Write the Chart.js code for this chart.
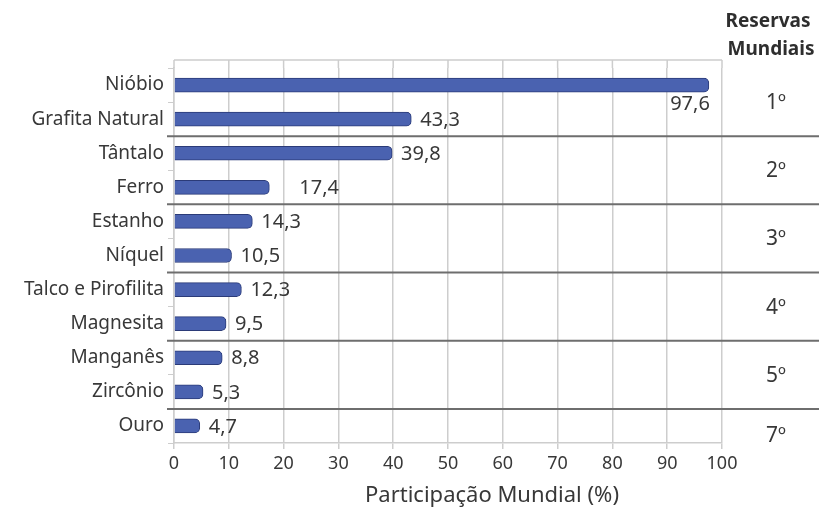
<!DOCTYPE html>
<html>
<head>
<meta charset="utf-8">
<script src="https://cdn.jsdelivr.net/npm/chart.js@4.4.1/dist/chart.umd.min.js"></script>
<style>
  html, body { margin: 0; padding: 0; background: #fff; }
  #wrap { width: 819px; height: 517px; }
</style>
</head>
<body>
<div id="wrap"><canvas id="chart" width="819" height="517"></canvas></div>
<script>
// Minerals and their share of world reserves (%)
const minerals = ['Nióbio', 'Grafita Natural', 'Tântalo', 'Ferro', 'Estanho', 'Níquel',
    'Talco e Pirofilita', 'Magnesita', 'Manganês', 'Zircônio', 'Ouro'];
const shares = [97.6, 43.3, 39.8, 17.4, 14.3, 10.5, 12.3, 9.5, 8.8, 5.3, 4.7];
const shareLabels = ['97,6', '43,3', '39,8', '17,4', '14,3', '10,5', '12,3', '9,5', '8,8', '5,3', '4,7'];

// Ranking groups (Brazil's position in world reserves)
const ranks = ['1º', '2º', '3º', '4º', '5º', '7º'];
const groupSizes = [2, 2, 2, 2, 2, 1];

const xTicks = [0, 10, 20, 30, 40, 50, 60, 70, 80, 90, 100];
const xTitle = 'Participação Mundial (%)';

const textColor = '#383838';
const fontFamily = '"Noto Sans", "Open Sans", sans-serif';

// Draws group separators, rank column, header, axis title and value labels
const decorations = {
    id: 'decorations',
    afterDatasetsDraw(chart) {
        const { ctx } = chart;
        const y = chart.scales.y;
        const meta = chart.getDatasetMeta(0);
        const band = y.getPixelForValue(1) - y.getPixelForValue(0);

        ctx.save();

        // value labels
        ctx.font = '20px ' + fontFamily;
        ctx.fillStyle = textColor;
        ctx.textBaseline = 'middle';
        meta.data.forEach((bar, i) => {
            if (i === 0) {
                ctx.textAlign = 'right';
                ctx.fillText(shareLabels[i], bar.x + 1, bar.y + 19);
            } else {
                ctx.textAlign = 'left';
                ctx.fillText(shareLabels[i], bar.x + (i === 3 ? 30 : 9), bar.y + 1);
            }
        });

        // separators and rank labels
        let start = 0;
        ctx.font = '21px ' + fontFamily;
        ctx.textAlign = 'center';
        groupSizes.forEach((size, g) => {
            const top = y.getPixelForValue(start) - band / 2;
            const bottom = y.getPixelForValue(start + size - 1) + band / 2;
            ctx.fillStyle = textColor;
            ctx.fillText(ranks[g], 776, (top + bottom) / 2 + (size === 1 ? 10 : 1));
            if (g > 0) {
                ctx.strokeStyle = '#6e6e6e';
                ctx.lineWidth = 2;
                ctx.beginPath();
                ctx.moveTo(167, top);
                ctx.lineTo(819, top);
                ctx.stroke();
            }
            start += size;
        });

        // axis title
        ctx.font = '22px ' + fontFamily;
        ctx.fillText(xTitle, 492, 496);

        // header
        ctx.font = 'bold 19px ' + fontFamily;
        ctx.fillStyle = '#2e2e2e';
        ctx.fillText('Reservas', 768, 22);
        ctx.fillText('Mundiais', 771, 50);

        ctx.restore();
    }
};

// Extends the vertical gridlines up to the back top edge
const topEdge = {
    id: 'topEdge',
    beforeDatasetsDraw(chart) {
        const { ctx, chartArea } = chart;
        const x = chart.scales.x;
        const yTop = chartArea.top - 8;
        ctx.save();
        ctx.strokeStyle = '#cdcdcd';
        ctx.lineWidth = 1.5;
        ctx.beginPath();
        ctx.moveTo(chartArea.left, yTop);
        ctx.lineTo(chartArea.right, yTop);
        xTicks.forEach(v => {
            const px = x.getPixelForValue(v);
            ctx.moveTo(px, yTop);
            ctx.lineTo(px, chartArea.top);
        });
        ctx.stroke();
        ctx.restore();
    }
};

function barFill(context) {
    const chart = context.chart;
    const el = context.element;
    if (!el || !Number.isFinite(el.y)) return '#4a62b0';
    const g = chart.ctx.createLinearGradient(0, el.y - 7, 0, el.y + 7);
    g.addColorStop(0, '#8da0dc');
    g.addColorStop(0.35, '#5470c0');
    g.addColorStop(0.8, '#3f58a6');
    g.addColorStop(1, '#2c3d7c');
    return g;
}

new Chart(document.getElementById('chart'), {
    type: 'bar',
    data: {
        labels: minerals,
        datasets: [{
            data: shares,
            backgroundColor: barFill,
            borderColor: '#2b3b78',
            borderWidth: 1,
            borderRadius: 5,
            borderSkipped: 'start',
            barThickness: 14
        }]
    },
    options: {
        indexAxis: 'y',
        responsive: false,
        animation: false,
        layout: { padding: { left: 0, right: 97, top: 68, bottom: 0 } },
        plugins: {
            legend: { display: false },
            tooltip: { enabled: false }
        },
        scales: {
            x: {
                min: 0,
                max: 100,
                afterBuildTicks: (scale) => { scale.ticks = xTicks.map(v => ({ value: v })); },
                ticks: {
                    color: textColor,
                    font: { family: fontFamily, size: 18 },
                    padding: 4
                },
                grid: {
                    color: '#cdcdcd',
                    lineWidth: 1.5,
                    tickLength: 6
                },
                border: { color: '#cdcdcd', width: 1.5 },
                afterFit: (scale) => { scale.height = 74; }
            },
            y: {
                ticks: {
                    color: textColor,
                    font: { family: fontFamily, size: 19 },
                    padding: 4
                },
                grid: {
                    drawOnChartArea: false,
                    color: '#cdcdcd',
                    tickLength: 6
                },
                border: { color: '#cdcdcd', width: 1.5 },
                afterFit: (scale) => { scale.width = 174; }
            }
        }
    },
    plugins: [topEdge, decorations]
});
</script>
</body>
</html>
